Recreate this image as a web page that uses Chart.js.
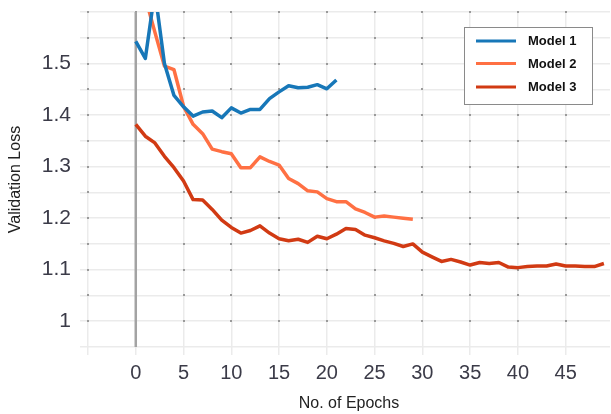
<!DOCTYPE html>
<html>
<head>
<meta charset="utf-8">
<script src="https://cdn.jsdelivr.net/npm/chart.js@4"></script>
<style>
  html, body { margin: 0; padding: 0; background: #ffffff; }
  #wrap { width: 611px; height: 414px; }
</style>
</head>
<body>
<div id="wrap"><canvas id="c" width="611" height="414"></canvas></div>
<script>
// ---- data ----
const seriesLabels = ['Model 1', 'Model 2', 'Model 3'];
const model1 = [1.543, 1.51, 1.64, 1.50, 1.438, 1.416, 1.398, 1.406, 1.408, 1.395, 1.414, 1.404, 1.411, 1.411, 1.432, 1.445, 1.457, 1.453, 1.454, 1.459, 1.451, 1.468];
const model2 = [1.64, 1.628, 1.561, 1.495, 1.488, 1.417, 1.382, 1.364, 1.334, 1.329, 1.325, 1.298, 1.298, 1.319, 1.31, 1.303, 1.277, 1.267, 1.253, 1.251, 1.238, 1.232, 1.232, 1.218, 1.211, 1.202, 1.204, 1.202, 1.200, 1.198];
const model3 = [1.382, 1.359, 1.346, 1.320, 1.298, 1.272, 1.236, 1.235, 1.217, 1.196,
                1.182, 1.171, 1.176, 1.185, 1.171, 1.160, 1.156, 1.159, 1.153, 1.165,
                1.160, 1.169, 1.180, 1.178, 1.167, 1.162, 1.156, 1.151, 1.145, 1.150,
                1.134, 1.125, 1.116, 1.120, 1.115, 1.109, 1.114, 1.112, 1.114, 1.105,
                1.104, 1.106, 1.107, 1.107, 1.111, 1.107, 1.107, 1.106, 1.106, 1.112];
const xTickValues = [-5, 0, 5, 10, 15, 20, 25, 30, 35, 40, 45];
const xTickLabels = ['', '0', '5', '10', '15', '20', '25', '30', '35', '40', '45'];
const yTickValues = [0.95, 1.0, 1.05, 1.1, 1.15, 1.2, 1.25, 1.3, 1.35, 1.4, 1.45, 1.5, 1.55, 1.6];
const yTickLabels = ['', '1', '', '1.1', '', '1.2', '', '1.3', '', '1.4', '', '1.5', '', ''];
const colors = ['#1777B8', '#FF7043', '#D13A13'];

const toPoints = arr => arr.map((v, i) => ({ x: i, y: v }));
const seriesData = [model1, model2, model3];

const gridColor = '#ebebeb';
const tickColor = '#3b3b48';

const extrasPlugin = {
  id: 'extras',
  beforeDatasetsDraw(chart) {
    const { ctx, chartArea, scales } = chart;
    const xs = scales.x, ys = scales.y;
    ctx.save();
    // small dots at grid intersections
    ctx.fillStyle = '#9a9a9a';
    xTickValues.forEach(xv => {
      const px = xs.getPixelForValue(xv);
      yTickValues.forEach((yv, j) => {
        if (j === 0) return;
        const py = ys.getPixelForValue(yv);
        ctx.fillRect(Math.round(px) - 1, Math.round(py) - 1, 2, 2);
      });
    });
    // vertical reference line at x = 0
    const x0 = xs.getPixelForValue(0);
    ctx.strokeStyle = '#a3a3a3';
    ctx.lineWidth = 2.5;
    ctx.beginPath();
    ctx.moveTo(x0, chartArea.top);
    ctx.lineTo(x0, chartArea.bottom);
    ctx.stroke();
    ctx.restore();
  },
  afterDraw(chart) {
    const { ctx, chartArea } = chart;
    ctx.save();
    const bx = 464.5, by = 27.5, bw = 128, bh = 77;
    ctx.fillStyle = '#ffffff';
    ctx.fillRect(bx, by, bw, bh);
    ctx.strokeStyle = '#8a8a8a';
    ctx.lineWidth = 1;
    ctx.strokeRect(bx, by, bw, bh);
    const rows = [41, 63.5, 87];
    chart.data.datasets.forEach((ds, i) => {
      const yy = rows[i];
      ctx.strokeStyle = ds.borderColor;
      ctx.lineWidth = 3;
      ctx.beginPath();
      ctx.moveTo(476, yy);
      ctx.lineTo(516, yy);
      ctx.stroke();
      ctx.fillStyle = '#111111';
      ctx.font = 'bold 13px "Liberation Sans", Arial, sans-serif';
      ctx.textAlign = 'left';
      ctx.textBaseline = 'middle';
      ctx.fillText(ds.label, 528, yy + 0.5);
    });
    ctx.restore();
  }
};

new Chart(document.getElementById('c'), {
  type: 'line',
  data: {
    datasets: seriesData.map((arr, i) => ({
      label: seriesLabels[i],
      data: toPoints(arr),
      borderColor: colors[i],
      backgroundColor: colors[i],
      borderWidth: 3.5,
      pointRadius: 0,
      tension: 0,
      fill: false,
      borderJoinStyle: 'round',
      borderCapStyle: 'butt'
    }))
  },
  options: {
    responsive: false,
    animation: false,
    devicePixelRatio: 1,
    layout: { padding: { top: 12, right: 1, left: 0, bottom: 0 } },
    plugins: {
      legend: { display: false },
      tooltip: { enabled: false }
    },
    scales: {
      x: {
        type: 'linear',
        min: -5,
        max: 49.64,
        afterBuildTicks: s => { s.ticks = xTickValues.map(v => ({ value: v })); },
        afterFit: s => { s.height = 67; s.paddingLeft = 0; s.paddingRight = 0; },
        grid: { color: gridColor, lineWidth: 1.5, tickLength: 8, tickColor: gridColor },
        border: { display: false },
        ticks: {
          autoSkip: false,
          maxRotation: 0,
          padding: 6,
          color: tickColor,
          font: { family: '"Liberation Sans", Arial, sans-serif', size: 20 },
          callback: (v, idx) => xTickLabels[idx]
        },
        title: {
          display: true,
          text: 'No. of Epochs',
          color: '#222222',
          font: { family: '"Liberation Sans", Arial, sans-serif', size: 16 },
          padding: { top: 0, bottom: 1 }
        }
      },
      y: {
        type: 'linear',
        min: 0.95,
        max: 1.6,
        afterBuildTicks: s => { s.ticks = yTickValues.map(v => ({ value: v })); },
        afterFit: s => { s.width = 88; s.paddingTop = 0; s.paddingBottom = 0; },
        grid: { color: gridColor, lineWidth: 1.5, tickLength: 8, tickColor: gridColor },
        border: { display: false },
        ticks: {
          autoSkip: false,
          padding: 9,
          color: tickColor,
          font: { family: '"Liberation Sans", Arial, sans-serif', size: 21 },
          callback: (v, idx) => yTickLabels[idx]
        },
        title: {
          display: true,
          text: 'Validation Loss',
          color: '#222222',
          font: { family: '"Liberation Sans", Arial, sans-serif', size: 16 },
          padding: { top: 6, bottom: 0 }
        }
      }
    }
  },
  plugins: [extrasPlugin]
});
</script>
</body>
</html>
